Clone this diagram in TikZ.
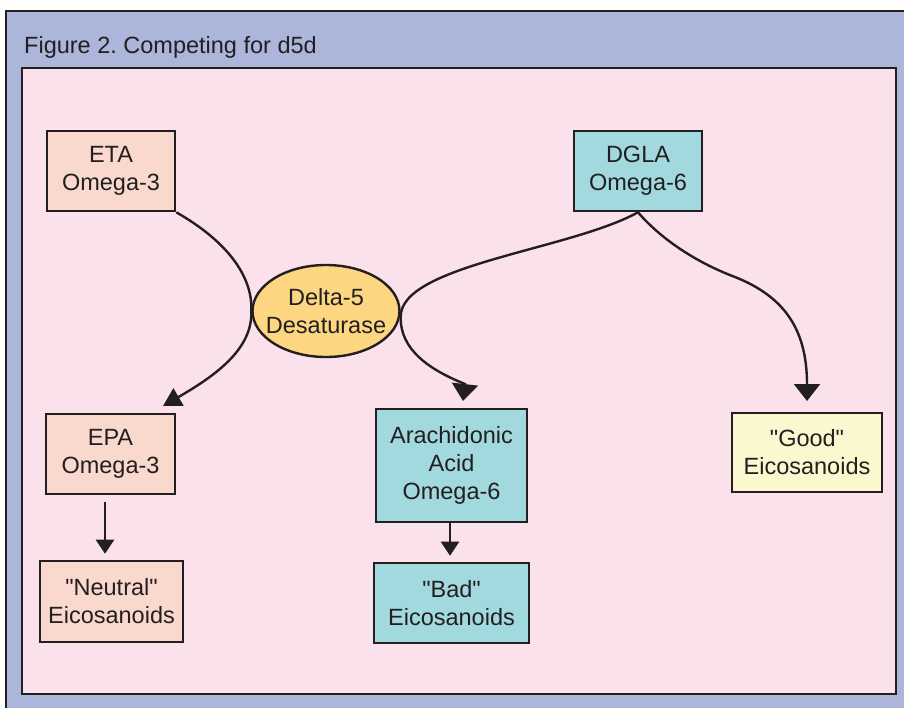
\documentclass[tikz,border=0pt]{standalone}
\usepackage{fontspec}
\setmainfont{Liberation Sans}[Ligatures=TeXOff]
\usetikzlibrary{arrows.meta,shapes.geometric,calc}
\definecolor{ink}{HTML}{231F20}
\definecolor{frameblue}{HTML}{ACB5DA}
\definecolor{pinkbg}{HTML}{FAE1EC}
\definecolor{peach}{HTML}{F9D9CD}
\definecolor{teal}{HTML}{A1D9DE}
\definecolor{gold}{HTML}{FDD681}
\definecolor{cream}{HTML}{FBF8CF}
\tikzset{
  lbl/.style={font=\fontsize{23.5}{28}\selectfont, text=ink, align=center},
  box/.style={lbl, draw=ink, line width=2.6pt, inner sep=0pt, minimum width=#1},
  conn/.style={draw=ink, line width=2.4pt},
  bigtip/.style={-{Triangle[width=26pt,length=17pt]}},
  midtip/.style={-{Triangle[width=20pt,length=18pt]}},
  smalltip/.style={-{Triangle[width=18pt,length=14pt]}}
}
\begin{document}
\frenchspacing
\begin{tikzpicture}[x=1pt,y=-1pt]
\useasboundingbox (0,0) rectangle (904,707);
\fill[white] (0,0) rectangle (904,707);
\draw[line width=2.5pt, draw=ink, fill=frameblue] (6,11) rectangle (916,720);
\draw[line width=2.5pt, draw=ink, fill=pinkbg] (22,68) rectangle (896,694);
\node[lbl, anchor=base west, inner sep=0pt] (title) at (24,53) {Figure 2. Competing for d5d};

\node[box=128pt, minimum height=80pt, fill=peach] (eta) at (111,171) {ETA\\Omega-3};
\node[box=128pt, minimum height=80pt, fill=teal] (dgla) at (638,171) {DGLA\\Omega-6};
\node[ellipse, draw=ink, line width=2.4pt, fill=gold, inner sep=0pt,
      minimum width=147pt, minimum height=92pt] (d5) at (326,311) {};
\node[lbl, inner sep=0pt] (d5text) at (d5.center) {Delta-5\\Desaturase};
\node[box=129pt, minimum height=80pt, fill=peach] (epa) at (110.5,454) {EPA\\Omega-3};
\node[box=143pt, minimum height=81pt, fill=peach] (neutral) at (111.5,601.5) {"Neutral"\\Eicosanoids};
\node[box=151pt, minimum height=113pt, fill=teal] (arach) at (451.5,465.5) {Arachidonic\\Acid\\Omega-6};
\node[box=155pt, minimum height=80pt, fill=teal] (bad) at (451.5,603) {"Bad"\\Eicosanoids};
\node[box=150pt, minimum height=79pt, fill=cream] (good) at (807,452.5) {"Good"\\Eicosanoids};

\coordinate (etatip) at (163,406);
\coordinate (arachtip) at (463,401);
\coordinate (goodtip) at (807,401);

\draw[conn, midtip] (eta.south east) .. controls (225,240) and (253,275) .. (d5.west)
   .. controls (253,350) and (213,377) .. (etatip);
\draw[conn, bigtip] (dgla.south) .. controls (570,250) and (400,265) .. ([yshift=-6pt]d5.east)
   .. controls (400,350) and (430,370) .. (465,384) -- (arachtip);
\draw[conn, bigtip] (dgla.south) .. controls (660,238) and (695,262) .. (735,277)
   .. controls (785,297) and (807,330) .. (goodtip);

\draw[conn, smalltip] ([xshift=-5.5pt,yshift=-7pt]epa.south) -- ([xshift=-6.5pt,yshift=6pt]neutral.north);
\draw[conn, smalltip] ([xshift=-1.5pt]arach.south) -- ([xshift=-1.5pt,yshift=6pt]bad.north);
\end{tikzpicture}
\end{document}
